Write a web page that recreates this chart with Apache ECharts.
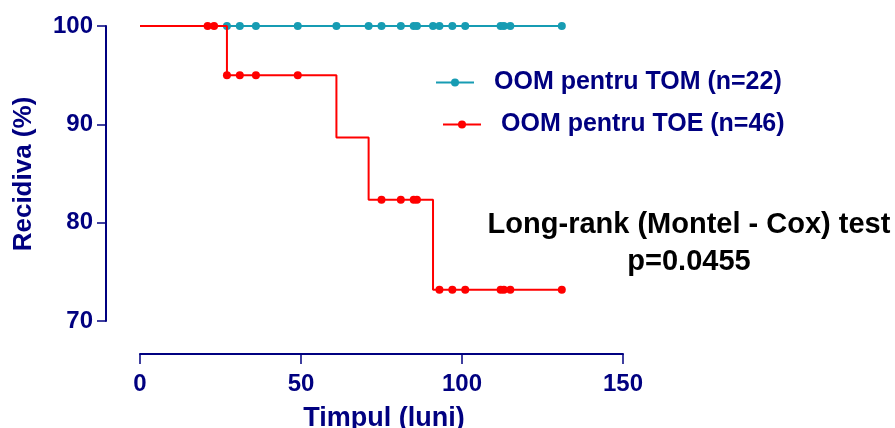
<!DOCTYPE html>
<html>
<head>
<meta charset="utf-8">
<script src="https://cdn.jsdelivr.net/npm/echarts@6/dist/echarts.min.js"></script>
<style>
html,body{margin:0;padding:0;background:#fff;}
#chart{width:895px;height:428px;}
</style>
</head>
<body>
<div id="chart"></div>
<script>
// ---- data ----
const xTicks = [0, 50, 100, 150];
const yTicks = [70, 80, 90, 100];

// OOM pentru TOM: no events, censored times at 100%
const tomTimes = [0, 27, 31, 36, 49, 61, 71, 75, 81, 85, 86, 91, 93, 97, 101, 112, 113, 115, 131];
const tomSurvival = [100, 100, 100, 100, 100, 100, 100, 100, 100, 100, 100, 100, 100, 100, 100, 100, 100, 100, 100];
const tomCensored = [0, 1, 1, 1, 1, 1, 1, 1, 1, 1, 1, 1, 1, 1, 1, 1, 1, 1, 1];

// OOM pentru TOE: steps (events) and censored marks
const toeTimes = [0, 21, 23, 27, 31, 36, 49, 61, 71, 75, 81, 85, 86, 91, 93, 97, 101, 112, 113, 115, 131];
const toeSurvival = [100, 100, 100, 95, 95, 95, 95, 88.67, 82.33, 82.33, 82.33, 82.33, 82.33, 73.17, 73.17, 73.17, 73.17, 73.17, 73.17, 73.17, 73.17];
const toeCensored = [0, 1, 1, 1, 1, 1, 1, 0, 0, 1, 1, 1, 1, 0, 1, 1, 1, 1, 1, 1, 1];

const seriesNames = ['OOM pentru TOM (n=22)', 'OOM pentru TOE (n=46)'];
const annotation = ['Long-rank (Montel - Cox) test', 'p=0.0455'];
const xTitle = 'Timpul (luni)';
const yTitle = 'Recidiva (%)';

// ---- build ----
const NAVY = '#000080';
const TEAL = '#179cb3';
const RED = '#ff0000';
const FONT = '"Liberation Sans", Arial, sans-serif';

function build(times, surv, cens) {
  return times.map((t, i) => cens[i]
    ? { value: [t, surv[i]] }
    : { value: [t, surv[i]], symbol: 'none' });
}

const chart = echarts.init(document.getElementById('chart'), null, { renderer: 'canvas' });

const legendBase = {
  padding: 0,
  itemWidth: 38,
  itemHeight: 10,
  orient: 'vertical',
  textStyle: { color: NAVY, fontWeight: 'bold', fontSize: 25, fontFamily: FONT, padding: [0, 0, 0, 15] },
  selectedMode: false
};

chart.setOption({
  animation: false,
  backgroundColor: '#fff',
  grid: { left: 140, top: 26, width: 483, height: 295, containLabel: false },
  legend: [
    Object.assign({}, legendBase, { data: [seriesNames[0]], left: 435, top: 70 }),
    Object.assign({}, legendBase, { data: [seriesNames[1]], left: 442, top: 112 })
  ],
  xAxis: {
    type: 'value', min: xTicks[0], max: xTicks[xTicks.length - 1], interval: 50,
    offset: 33,
    axisLine: { show: true, onZero: false, lineStyle: { color: NAVY, width: 2 } },
    axisTick: { show: true, length: 10, lineStyle: { color: NAVY, width: 1.5 } },
    axisLabel: { color: NAVY, fontWeight: 'bold', fontSize: 24, fontFamily: FONT, margin: 18 },
    splitLine: { show: false }
  },
  yAxis: {
    type: 'value', min: yTicks[0], max: yTicks[yTicks.length - 1], interval: 10,
    offset: 34,
    axisLine: { show: true, onZero: false, lineStyle: { color: NAVY, width: 2 } },
    axisTick: { show: true, length: 9, lineStyle: { color: NAVY, width: 1.5 } },
    axisLabel: { color: NAVY, fontWeight: 'bold', fontSize: 24, fontFamily: FONT, margin: 13 },
    splitLine: { show: false }
  },
  series: [
    {
      name: seriesNames[0], type: 'line', step: 'end',
      data: build(tomTimes, tomSurvival, tomCensored),
      symbol: 'circle', symbolSize: 8, showAllSymbol: true,
      lineStyle: { color: TEAL, width: 2 }, itemStyle: { color: TEAL },
      z: 2
    },
    {
      name: seriesNames[1], type: 'line', step: 'end',
      data: build(toeTimes, toeSurvival, toeCensored),
      symbol: 'circle', symbolSize: 8, showAllSymbol: true,
      lineStyle: { color: RED, width: 2 }, itemStyle: { color: RED },
      z: 3
    }
  ],
  graphic: [
    {
      type: 'text', x: 689, y: 243,
      style: {
        text: annotation.join('\n'), fill: '#000', font: 'bold 29px ' + FONT,
        align: 'center', verticalAlign: 'middle', lineHeight: 37
      }
    },
    {
      type: 'text', x: 384, y: 419,
      style: { text: xTitle, fill: NAVY, font: 'bold 27px ' + FONT, align: 'center', verticalAlign: 'middle' }
    },
    {
      type: 'text', x: 24, y: 174, rotation: Math.PI / 2,
      style: { text: yTitle, fill: NAVY, font: 'bold 26px ' + FONT, align: 'center', verticalAlign: 'middle' }
    }
  ]
});
</script>
</body>
</html>
